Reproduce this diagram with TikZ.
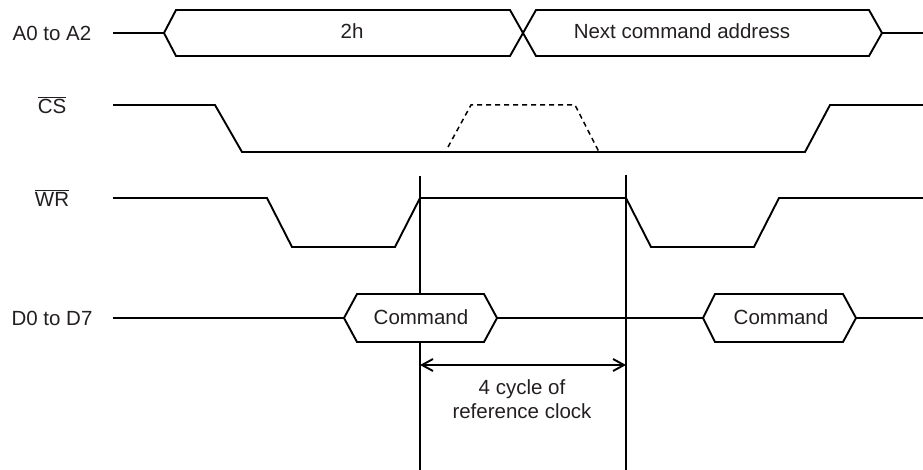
\documentclass[tikz,border=0pt]{standalone}
\usepackage{fontspec}
\setmainfont{Liberation Sans}
\usetikzlibrary{arrows.meta}
\definecolor{txt}{HTML}{231F20}
\tikzset{
  sig/.style={line width=1.9pt, line join=miter},
  dsig/.style={line width=1.5pt, dash pattern=on 5pt off 4pt},
  lbl/.style={text=txt, font=\fontsize{20.5}{24}\selectfont, inner sep=0pt},
  guide/.style={line width=1.9pt},
  dim/.style={line width=1.9pt, {Straight Barb[length=11pt,width=12pt]}-{Straight Barb[length=11pt,width=12pt]}}
}
\begin{document}
\begin{tikzpicture}[x=1pt,y=-1pt]
\useasboundingbox (0,0) rectangle (923,470);
% signal labels
\node[lbl] (la) at (52,33) {A0 to A2};
\node[lbl] (lcs) at (52,105) {$\overline{\mbox{CS}}$};
\node[lbl] (lwr) at (52,198) {$\overline{\mbox{WR}}$};
\node[lbl] (ld) at (52,318) {D0 to D7};
% guide lines
\coordinate (g1t) at (420,176);
\coordinate (g1b) at (420,470);
\coordinate (g2t) at (626,175);
\coordinate (g2b) at (626,470);
\draw[guide] (g1t) -- (g1b);
\draw[guide] (g2t) -- (g2b);
% A0 to A2 bus
\coordinate (a0) at (113,33);
\coordinate (a1) at (164,33);
\coordinate (a2) at (882,33);
\coordinate (a3) at (923,33);
\draw[sig] (a0) -- (a1) -- (176,10) -- (510,10) -- (536,56) -- (869,56) -- (a2) -- (a3);
\draw[sig] (a1) -- (176,56) -- (510,56) -- (536,10) -- (869,10) -- (a2);
\node[lbl] (t2h) at (352,31) {2h};
\node[lbl] (tnext) at (682,31) {Next command address};
% CS
\coordinate (c0) at (113,105);
\coordinate (c1) at (923,105);
\draw[sig] (c0) -- (215,105) -- (242,152) -- (805,152) -- (830,105) -- (c1);
\draw[dsig] (448,147) -- (471,105) -- (575,105) -- (599,152);
% WR
\coordinate (w0) at (113,198);
\coordinate (w1) at (923,198);
\draw[sig] (w0) -- (267,198) -- (292,247) -- (395,247) -- (420,198) -- (626,198) -- (651,247) -- (754,247) -- (779,198) -- (w1);
% D0 to D7
\coordinate (d0) at (113,318);
\coordinate (d1) at (344,318);
\coordinate (d2) at (497,318);
\coordinate (d3) at (703,318);
\coordinate (d4) at (856,318);
\coordinate (d5) at (923,318);
\draw[sig] (d0) -- (d1);
\draw[sig] (d2) -- (d3);
\draw[sig] (d4) -- (d5);
\draw[sig, fill=white] (d1) -- (357,294) -- (484,294) -- (d2) -- (484,342) -- (357,342) -- cycle;
\draw[sig, fill=white] (d3) -- (715,294) -- (843,294) -- (d4) -- (843,342) -- (715,342) -- cycle;
\node[lbl] (cmd1) at (421,317) {Command};
\node[lbl] (cmd2) at (781,317) {Command};
% dimension
\coordinate (m1) at (420,365);
\coordinate (m2) at (626,365);
\draw[dim] (m1) -- (m2);
\node[lbl, align=center] (cyc) at (522,399) {4 cycle of\\reference clock};
\end{tikzpicture}
\end{document}
